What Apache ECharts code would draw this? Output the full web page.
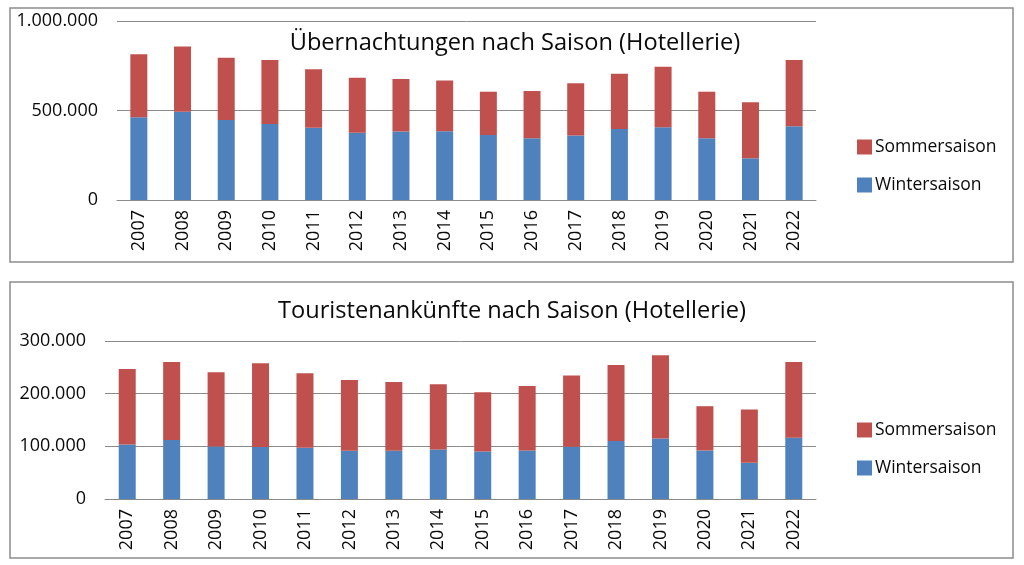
<!DOCTYPE html>
<html>
<head>
<meta charset="utf-8">
<script src="https://cdn.jsdelivr.net/npm/echarts@6/dist/echarts.min.js"></script>
<style>
  html, body { margin: 0; padding: 0; background: #fff; }
  #main { width: 1024px; height: 565px; }
</style>
</head>
<body>
<div id="main"></div>
<script>
// Jahre
var years = ['2007', '2008', '2009', '2010', '2011', '2012', '2013', '2014',
             '2015', '2016', '2017', '2018', '2019', '2020', '2021', '2022']

// Übernachtungen (Hotellerie)
var nightsWinter = [462000, 493000, 447000, 425000, 404000, 376000, 382000, 384000,
                    363000, 345000, 361000, 397000, 406000, 345000, 233000, 412000]
var nightsSummer = [352000, 364000, 348000, 357000, 326000, 307000, 294000, 283000,
                    242000, 264000, 291000, 309000, 339000, 260000, 313000, 370000]

// Touristenankünfte (Hotellerie)
var arrivalsWinter = [103600, 111800, 99800, 98500, 97300, 91600, 91600, 94100,
                      90300, 92200, 99200, 110000, 115000, 92200, 68800, 116200]
var arrivalsSummer = [143400, 148200, 140800, 159200, 141400, 134400, 130700, 123800,
                      112400, 122500, 135100, 144500, 157800, 84000, 101100, 143800]

var nightsTicks = [0, 500000, 1000000]
var arrivalsTicks = [0, 100000, 200000, 300000]

var FONT = '"Open Sans", sans-serif'
var BLUE = '#4f81bd'
var RED = '#c0504d'
var GRID_COLOR = '#8a8a8a'
var TEXT = '#0a0a0a'

// 1000000 -> "1.000.000"
function fmtDe(v) {
    return String(v).replace(/\B(?=(\d{3})+(?!\d))/g, '.')
}

function xAxisFor(idx) {
    return {
        type: 'category',
        gridIndex: idx,
        data: years,
        axisLine: { lineStyle: { color: GRID_COLOR, width: 1 } },
        axisTick: { show: false },
        axisLabel: {
            rotate: 90,
            margin: 10,
            color: TEXT,
            fontSize: 18,
            fontFamily: FONT
        }
    }
}

function yAxisFor(idx, ticks) {
    return {
        type: 'value',
        gridIndex: idx,
        min: ticks[0],
        max: ticks[ticks.length - 1],
        interval: ticks[1] - ticks[0],
        axisLine: { show: false },
        axisTick: { show: false },
        splitLine: { lineStyle: { color: GRID_COLOR, width: 1 } },
        axisLabel: {
            margin: 19,
            color: TEXT,
            fontSize: 18,
            fontFamily: FONT,
            formatter: fmtDe
        }
    }
}

function legendAt(top) {
    return {
        orient: 'vertical',
        left: 852,
        top: top,
        icon: 'rect',
        itemWidth: 15,
        itemHeight: 15,
        itemGap: 20,
        selectedMode: false,
        data: ['Sommersaison', 'Wintersaison'],
        textStyle: { color: TEXT, fontSize: 17.5, fontFamily: FONT, padding: [0, 0, 0, -2] }
    }
}

function barSeries(name, stack, xi, data, color) {
    return {
        name: name,
        type: 'bar',
        stack: stack,
        xAxisIndex: xi,
        yAxisIndex: xi,
        barWidth: 17,
        itemStyle: { color: color },
        data: data
    }
}

var chart = echarts.init(document.getElementById('main'))
chart.setOption({
    animation: false,
    backgroundColor: '#fff',
    graphic: [
        { type: 'rect', shape: { x: 10, y: 8, width: 1003, height: 254 },
          style: { fill: 'none', stroke: '#8c8c8c', lineWidth: 1.5 } },
        { type: 'rect', shape: { x: 10, y: 282, width: 1003, height: 276 },
          style: { fill: 'none', stroke: '#8c8c8c', lineWidth: 1.5 } }
    ],
    title: [
        { text: 'Übernachtungen nach Saison (Hotellerie)', left: 510, top: 26, textAlign: 'center',
          textStyle: { color: TEXT, fontSize: 23.6, fontWeight: 'normal', fontFamily: FONT } },
        { text: 'Touristenankünfte nach Saison (Hotellerie)', left: 507, top: 294, textAlign: 'center',
          textStyle: { color: TEXT, fontSize: 23.6, fontWeight: 'normal', fontFamily: FONT } }
    ],
    legend: [legendAt(133), legendAt(416)],
    grid: [
        { left: 117, right: 208, top: 21, bottom: 365 },
        { left: 105, right: 208, top: 341, bottom: 66 }
    ],
    xAxis: [xAxisFor(0), xAxisFor(1)],
    yAxis: [yAxisFor(0, nightsTicks), yAxisFor(1, arrivalsTicks)],
    series: [
        barSeries('Wintersaison', 'n', 0, nightsWinter, BLUE),
        barSeries('Sommersaison', 'n', 0, nightsSummer, RED),
        barSeries('Wintersaison', 'a', 1, arrivalsWinter, BLUE),
        barSeries('Sommersaison', 'a', 1, arrivalsSummer, RED)
    ]
})
</script>
</body>
</html>
